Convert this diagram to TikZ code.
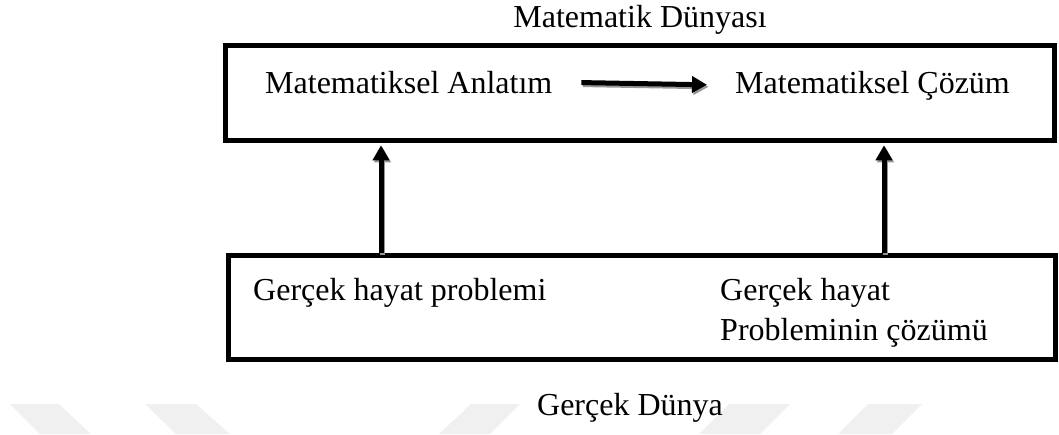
\documentclass[tikz,border=0pt]{standalone}
\usepackage{fontspec}
\setmainfont{Liberation Serif}
\usetikzlibrary{arrows.meta}
\definecolor{wmgray}{RGB}{240,240,240}
\definecolor{shade}{RGB}{150,150,150}
\begin{document}
\begin{tikzpicture}[x=1pt,y=-1pt,
  frame/.style={draw=black,line width=5.5pt,inner sep=0pt},
  txt/.style={inner sep=0pt,font=\fontsize{32}{40}\selectfont},
  bigarrow/.style={line width=5pt,-{Triangle[width=16pt,length=15pt]}},
  shadowarrow/.style={bigarrow,draw=shade,transform canvas={xshift=1.5pt,yshift=-2pt}}]
\useasboundingbox (0,0) rectangle (1059,434);
% faint background marks
\fill[wmgray] (10,404) -- (59,404) -- (91,434) -- (40,434) -- cycle;
\fill[wmgray] (145,404) -- (196,404) -- (230,434) -- (176,434) -- cycle;
\fill[wmgray] (471,404) -- (520,404) -- (490,434) -- (439,434) -- cycle;
\fill[wmgray] (729,404) -- (790,404) -- (760,434) -- (699,434) -- cycle;
\fill[wmgray] (868,404) -- (922,404) -- (892,434) -- (838,434) -- cycle;
% boxes
\node[frame,minimum width=829pt,minimum height=95pt] (top) at (640,93) {};
\node[frame,minimum width=827pt,minimum height=104pt] (bot) at (642,307.5) {};
% texts
\node[txt,anchor=base] (mw) at (640,27) {Matematik Dünyası};
\node[txt,anchor=base west] (ma) at (265,93) {Matematiksel Anlatım};
\node[txt,anchor=base west] (mc) at (735,93) {Matematiksel Çözüm};
\node[txt,anchor=base west] (gp) at (253,300) {Gerçek hayat problemi};
\node[txt,anchor=base west] (gc1) at (720,300) {Gerçek hayat};
\node[txt,anchor=base west] (gc2) at (720,340) {Probleminin çözümü};
\node[txt,anchor=base] (gw) at (630,415) {Gerçek Dünya};
% anchor columns for the vertical arrows
\coordinate (c1) at (381,0);
\coordinate (c2) at (884,0);
% arrows
\draw[shadowarrow,shorten <=29pt,shorten >=28pt] (ma.east) -- (mc.west);
\draw[bigarrow,shorten <=29pt,shorten >=28pt] (ma.east) -- (mc.west);
\draw[shadowarrow,shorten >=2pt] (bot.north -| c1) -- (top.south -| c1);
\draw[bigarrow,shorten >=2pt] (bot.north -| c1) -- (top.south -| c1);
\draw[shadowarrow,shorten >=2pt] (bot.north -| c2) -- (top.south -| c2);
\draw[bigarrow,shorten >=2pt] (bot.north -| c2) -- (top.south -| c2);
\end{tikzpicture}
\end{document}
